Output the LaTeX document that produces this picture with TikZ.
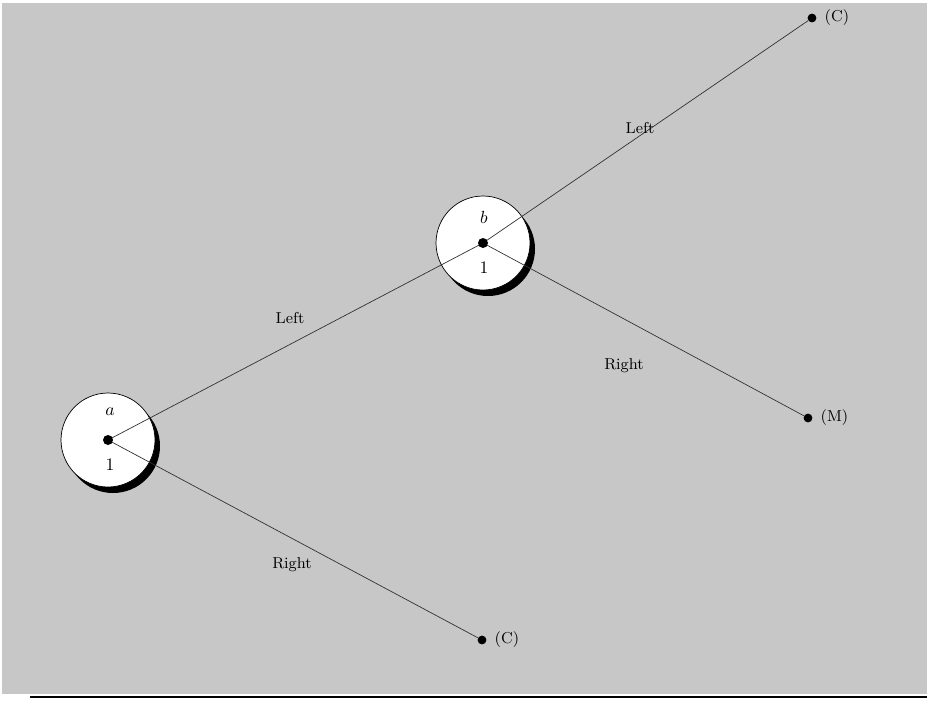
\documentclass[tikz,border=0pt]{standalone}
\begin{document}
\begin{tikzpicture}[x=0.02cm,y=-0.02cm,
  vertex/.style={circle,draw,thin,fill=white,minimum size=1.88cm,inner sep=0pt},
  leaf/.style={circle,fill=black,minimum size=5pt,inner sep=0pt},
  branch/.style={draw=black!80,thin},
  lbl/.style={font=\small}]
\useasboundingbox (0,0) rectangle (927,703);
% shaded ground
\fill[black!22] (2,3) rectangle (927,694);
\draw[line width=1.2pt] (30,697) -- (927,697);
% shadows under the two decision nodes
\fill (113,446) circle (47);
\fill (488,249) circle (47);
\node[vertex] (a) at (108,440) {};
\node[vertex] (b) at (483,243) {};
\node at (110,412) {$a$};
\node at (110,465) {1};
\node at (484,217) {$b$};
\node at (484,268) {1};
% leaves
\node[leaf] (c1) at (482,640) {};
\node[leaf] (m) at (808,418) {};
\node[leaf] (c2) at (812,18) {};
\node[lbl,right=1pt] at (c1.east) {(C)};
\node[lbl,right=1pt] at (m.east) {(M)};
\node[lbl,right=1pt] at (c2.east) {(C)};
% branches
\draw[branch] (a.center) -- (b.center);
\draw[branch] (a.center) -- (c1);
\draw[branch] (b.center) -- (c2);
\draw[branch] (b.center) -- (m);
\node[lbl] at (290,318) {Left};
\node[lbl] at (292,565) {Right};
\node[lbl] at (640,128) {Left};
\node[lbl] at (624,366) {Right};
\fill (a.center) circle (5);
\fill (b.center) circle (5);
\end{tikzpicture}
\end{document}
